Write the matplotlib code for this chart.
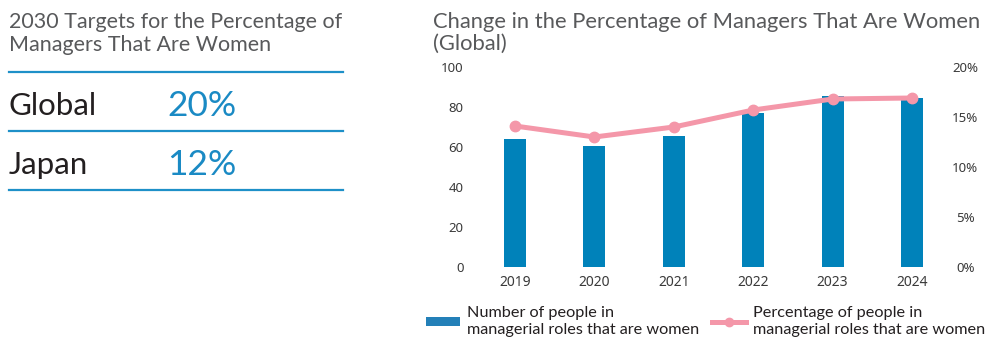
import matplotlib
matplotlib.use("Agg")
import matplotlib.pyplot as plt
from matplotlib.lines import Line2D
from matplotlib.patches import Patch
from matplotlib.ticker import FuncFormatter

# ---- data ----
years = ["2019", "2020", "2021", "2022", "2023", "2024"]
num_women_managers = [64, 60.6, 65.7, 77, 85.5, 84.5]
pct_women_managers = [14.1, 13.0, 14.0, 15.7, 16.8, 16.9]
left_ticks = [0, 20, 40, 60, 80, 100]
right_ticks = [0, 5, 10, 15, 20]
target_regions = ["Global", "Japan"]
target_values = ["20%", "12%"]

W, H = 1001, 353
fig = plt.figure(figsize=(W / 100, H / 100), dpi=100)

BLUE = "#0082BA"
PINK = "#F497A9"
TXT_BLUE = "#1A8AC4"
GRAY = "#58595B"
DARK = "#231F20"
TICK = "#3A3A3A"

def fx(px):
    return px / W

def fy(py):
    return 1 - py / H

# ---- left panel ----
for line, yb in zip(["2030 Targets for the Percentage of", "Managers That Are Women"], [28, 51]):
    fig.text(fx(9), fy(yb), line, family="Lato", fontsize=15.5, color=GRAY,
             va="baseline", ha="left")
for y in [72, 131, 190]:
    fig.add_artist(Line2D([fx(9), fx(343)], [fy(y), fy(y)], color="#1E90C8", lw=1.6,
                          transform=fig.transFigure))
row_base = [115, 174]
for reg, val, yb in zip(target_regions, target_values, row_base):
    fig.text(fx(9), fy(yb), reg, family="Lato", fontsize=22.5, color=DARK, va="baseline", ha="left")
    fig.text(fx(167), fy(yb + 1), val, family="Lato", fontsize=25.5, color=TXT_BLUE,
             va="baseline", ha="left")

# ---- right chart ----
for line, yb in zip(["Change in the Percentage of Managers That Are Women", "(Global)"], [28, 50]):
    fig.text(fx(433), fy(yb), line, family="Lato", fontsize=15.8, color=GRAY,
             va="baseline", ha="left")

ax_l, ax_r, ax_t, ax_b = 470, 945, 67, 267
ax = fig.add_axes([fx(ax_l), 1 - ax_b / H, (ax_r - ax_l) / W, (ax_b - ax_t) / H])
x = list(range(len(years)))
ax.bar(x, num_women_managers, width=0.277, color=BLUE, zorder=2)
c0, step = 515, 79.4
ax.set_xlim((ax_l - c0) / step, (ax_r - c0) / step)
ax.set_ylim(0, 100)
ax.set_yticks(left_ticks)
ax.set_xticks(x)
ax.set_xticklabels(years)
for s in ax.spines.values():
    s.set_visible(False)
ax.tick_params(axis="y", length=0, pad=4.5, labelsize=9.5, labelcolor=TICK)
ax.tick_params(axis="x", length=0, pad=6, labelsize=10, labelcolor=TICK)
for lab in ax.get_yticklabels() + ax.get_xticklabels():
    lab.set_family("Noto Sans")

ax2 = ax.twinx()
ax2.plot(x, pct_women_managers, color=PINK, lw=3.6, marker="o", markersize=7.5, zorder=3,
         solid_capstyle="round")
ax2.set_ylim(0, 20)
ax2.set_yticks(right_ticks)
ax2.yaxis.set_major_formatter(FuncFormatter(lambda v, p: f"{v:.0f}%"))
for s in ax2.spines.values():
    s.set_visible(False)
ax2.tick_params(axis="y", length=0, pad=14.5, labelsize=9.5, labelcolor=TICK)
for lab in ax2.get_yticklabels():
    lab.set_family("Noto Sans")
    lab.set_horizontalalignment("center")

# ---- legend ----
handles = [Patch(facecolor="#2380B8", edgecolor="none"),
           Line2D([0], [0], color=PINK, lw=3.6, marker="o", markersize=6)]
labels = ["Number of people in\nmanagerial roles that are women",
          "Percentage of people in\nmanagerial roles that are women"]
leg = fig.legend(handles, labels, loc="upper left", bbox_to_anchor=(fx(426), fy(306)),
                 ncol=2, frameon=False, prop={"family": "Lato", "size": 11.7},
                 handlelength=2.1, handleheight=0.5, handletextpad=0.45, columnspacing=0.75,
                 labelspacing=0.2, borderaxespad=0, borderpad=0)
for t in leg.get_texts():
    t.set_color(DARK)
    t.set_linespacing(1.3)

fig.savefig("out.png", dpi=100)
